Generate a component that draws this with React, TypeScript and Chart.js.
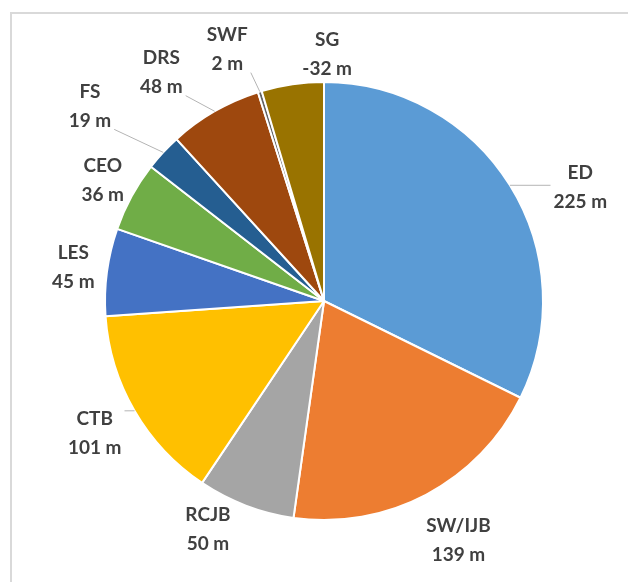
import React, { useEffect, useRef } from "react";
import { Chart, registerables } from "chart.js";

Chart.register(...registerables);

// ---- data ----
const categories = ["ED", "SW/IJB", "RCJB", "CTB", "LES", "CEO", "FS", "DRS", "SWF", "SG"];
const values = [225, 139, 50, 101, 45, 36, 19, 48, 2, -32];
const unit = "m";
const sliceColors = [
  "#5B9BD5",
  "#ED7D31",
  "#A5A5A5",
  "#FFC000",
  "#4472C4",
  "#70AD47",
  "#255E91",
  "#9E480E",
  "#636363",
  "#997300",
];

// ---- label placement (relative to each arc) ----
const labelAngleShift = [8, -1.4, 6, 0, 0, 0, -3, -5.5, -4, 9];
const labelDistance = [1.28, 1.255, 1.17, 1.21, 1.155, 1.15, 1.39, 1.28, 1.23, 1.127];
const showLeader = [true, false, false, true, false, false, true, true, true, false];

const LABEL_FONT = "bold 19px Lato, 'Open Sans', sans-serif";
const LINE_GAP = 29;

const labelPlugin = {
  id: "outsideLabels",
  afterDatasetsDraw(chart: any) {
    const ctx = chart.ctx as CanvasRenderingContext2D;
    const meta = chart.getDatasetMeta(0);
    ctx.save();
    ctx.font = LABEL_FONT;
    ctx.textAlign = "center";
    ctx.textBaseline = "middle";
    meta.data.forEach((arc: any, i: number) => {
      const p = arc.getProps(["x", "y", "startAngle", "endAngle", "outerRadius"], true);
      const mid = (p.startAngle + p.endAngle) / 2;
      const a = mid + (labelAngleShift[i] * Math.PI) / 180;
      const d = p.outerRadius * labelDistance[i];
      const lx = p.x + Math.cos(a) * d;
      const ly = p.y + Math.sin(a) * d;
      const line1 = categories[i];
      const line2 = `${values[i]} ${unit}`;
      const w = Math.max(ctx.measureText(line1).width, ctx.measureText(line2).width);
      const h = LINE_GAP * 2;
      if (showLeader[i]) {
        const ax = p.x + Math.cos(mid) * p.outerRadius;
        const ay = p.y + Math.sin(mid) * p.outerRadius;
        const left = lx - w / 2 - 3;
        const right = lx + w / 2 + 3;
        const top = ly - h / 2 + 6;
        const bottom = ly + h / 2 - 6;
        const tx = Math.min(Math.max(ax, left), right);
        const ty = Math.min(Math.max(ay, top), bottom);
        ctx.strokeStyle = "#b4b4b4";
        ctx.lineWidth = 1;
        ctx.beginPath();
        ctx.moveTo(ax, ay);
        ctx.lineTo(tx, ty);
        ctx.stroke();
      }
      ctx.fillStyle = "#404040";
      ctx.fillText(line1, lx, ly - LINE_GAP / 2);
      ctx.fillText(line2, lx, ly + LINE_GAP / 2);
    });
    ctx.restore();
  },
};

export default function App() {
  const canvasRef = useRef<HTMLCanvasElement | null>(null);

  useEffect(() => {
    if (!canvasRef.current) return;
    const chart = new Chart(canvasRef.current, {
      type: "pie",
      data: {
        labels: categories,
        datasets: [
          {
            data: values.map((v) => Math.abs(v)),
            backgroundColor: sliceColors,
            borderColor: "#ffffff",
            borderWidth: 2,
          },
        ],
      },
      options: {
        responsive: false,
        animation: false,
        devicePixelRatio: 1,
        layout: { padding: { left: 104, right: 84, top: 81, bottom: 61 } },
        plugins: {
          legend: { display: false },
          tooltip: { enabled: false },
        },
      },
      plugins: [labelPlugin],
    });
    return () => chart.destroy();
  }, []);

  return (
    <>
      <div
        style={{
          position: "fixed",
          left: 10,
          top: 12,
          right: -10,
          bottom: -10,
          border: "2px solid #d9d9d9",
          background: "#ffffff",
        }}
      />
      <div style={{ position: "fixed", left: 0, top: 0, width: 628, height: 582 }}>
        <canvas ref={canvasRef} width={628} height={582} style={{ display: "block" }} />
      </div>
    </>
  );
}
